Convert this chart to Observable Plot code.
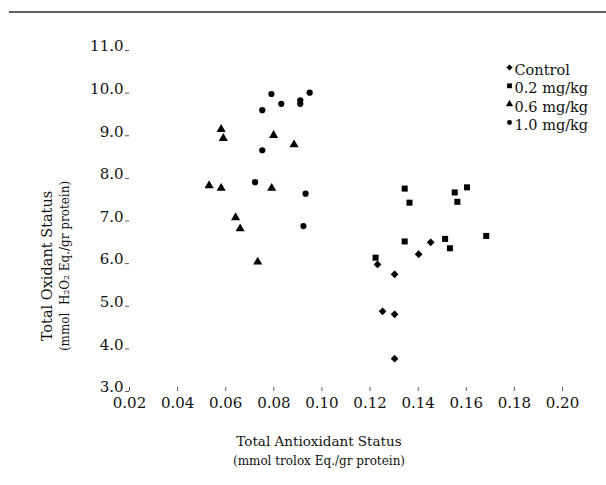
<!DOCTYPE html>
<html><head><meta charset="utf-8">
<script src="https://cdn.jsdelivr.net/npm/d3@7"></script>
<script src="https://cdn.jsdelivr.net/npm/@observablehq/plot@0.6"></script>
<style>
body{margin:0;background:#fff}
#wrap{position:relative;width:606px;height:485px;overflow:hidden}
#rule{position:absolute;left:9px;top:11px;width:597px;height:2px;background:#5f5f5f}
</style>
</head><body>
<div id="wrap"><div id="rule"></div><div id="chart"></div></div>
<script>
// Data (x = Total Antioxidant Status, y = Total Oxidant Status)
const groups = ["Control", "0.2 mg/kg", "0.6 mg/kg", "1.0 mg/kg"];
const controlX = [0.1231, 0.1302, 0.1252, 0.1302, 0.1302, 0.1402, 0.1452];
const controlY = [5.98, 5.75, 4.88, 4.81, 3.77, 6.22, 6.50];
const dose02X = [0.1344, 0.1364, 0.1552, 0.1603, 0.1563, 0.1344, 0.1512, 0.1532, 0.1683, 0.1223];
const dose02Y = [7.76, 7.43, 7.67, 7.79, 7.45, 6.52, 6.58, 6.36, 6.65, 6.14];
const dose06X = [0.0581, 0.0590, 0.0799, 0.0884, 0.0531, 0.0581, 0.0791, 0.0641, 0.0660, 0.0733];
const dose06Y = [9.15, 8.94, 9.01, 8.79, 7.83, 7.77, 7.77, 7.08, 6.82, 6.04];
const dose10X = [0.0790, 0.0831, 0.0752, 0.0910, 0.0910, 0.0949, 0.0752, 0.0722, 0.0932, 0.0923];
const dose10Y = [9.98, 9.75, 9.60, 9.83, 9.75, 10.01, 8.66, 7.91, 7.64, 6.88];
const xTicks = [0.02, 0.04, 0.06, 0.08, 0.10, 0.12, 0.14, 0.16, 0.18, 0.20];
const yTicks = [3, 4, 5, 6, 7, 8, 9, 10, 11];
const xTitle = "Total Antioxidant Status";
const xSubtitle = "(mmol trolox Eq./gr protein)";
const yTitle = "Total Oxidant Status";
const ySubtitle = "(mmol  H\u2082O\u2082 Eq./gr protein)";

const series = [
  {group: groups[0], xs: controlX, ys: controlY, symbol: "diamond2", r: 3.5},
  {group: groups[1], xs: dose02X, ys: dose02Y, symbol: "square", r: 3.4},
  {group: groups[2], xs: dose06X, ys: dose06Y, symbol: "triangle", r: 3.4},
  {group: groups[3], xs: dose10X, ys: dose10Y, symbol: "circle", r: 3.1}
];
const rows = s => s.xs.map((x, i) => ({group: s.group, x, y: s.ys[i]}));

const font = "DejaVu Serif";
const axisColor = "#5a5a5a";
const ink = "#111";

const marks = [];
for (const s of series) {
  marks.push(Plot.dot(rows(s), {x: "x", y: "y", symbol: () => s.symbol, fill: "black", stroke: "none", r: s.r}));
}
// legend
series.forEach((s, i) => {
  marks.push(Plot.dot([s.group], {frameAnchor: "top-left", dx: 380, dy: 17 + i * 18.3, symbol: () => s.symbol, fill: "black", stroke: "none", r: s.r * 0.8}));
  marks.push(Plot.text([s.group], {frameAnchor: "top-left", dx: 385, dy: 20 + i * 18.3, text: d => d, textAnchor: "start", lineAnchor: "middle", fill: ink, fontSize: 14.5}));
});
// axis titles
marks.push(Plot.text([xTitle], {frameAnchor: "bottom", dx: -27, dy: 50, text: d => d, textAnchor: "middle", lineAnchor: "middle", fill: ink, fontSize: 13.5}));
marks.push(Plot.text([xSubtitle], {frameAnchor: "bottom", dx: -27, dy: 70, text: d => d, textAnchor: "middle", lineAnchor: "middle", fill: ink, fontSize: 12}));
marks.push(Plot.text([yTitle], {frameAnchor: "left", dx: -82, dy: 45, rotate: -90, text: d => d, textAnchor: "middle", lineAnchor: "middle", fill: ink, fontSize: 14.5}));
marks.push(Plot.text([ySubtitle], {frameAnchor: "left", dx: -64, dy: 45, rotate: -90, text: d => d, textAnchor: "middle", lineAnchor: "middle", fill: ink, fontSize: 12}));

const chart = Plot.plot({
  width: 606,
  height: 485,
  marginLeft: 129,
  marginRight: 44,
  marginTop: 50,
  marginBottom: 94,
  style: {fontFamily: font, fontSize: "15px", color: ink, background: "transparent"},
  x: {domain: [0.02, 0.20]},
  y: {domain: [3, 11]},
  symbol: {type: "identity"},
  marks: [
    Plot.axisX({ticks: xTicks, tickFormat: d3.format(".2f"), tickSize: -4, tickPadding: 10, stroke: axisColor, fill: ink, fontSize: 15, label: null, line: true}),
    Plot.axisY({ticks: yTicks, tickFormat: null, text: null, tickSize: 4, stroke: axisColor, label: null, line: true}),
    Plot.axisY({ticks: yTicks, tickFormat: d3.format(".1f"), tickSize: 0, tickPadding: 6, dy: -4, fill: ink, fontSize: 15, label: null}),
    ...marks
  ]
});
document.getElementById("chart").appendChild(chart);
</script>
</body></html>
